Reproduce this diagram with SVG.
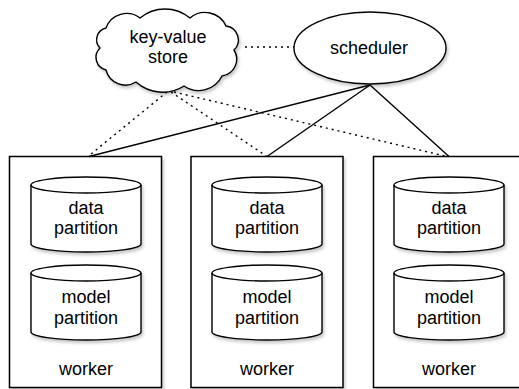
<svg xmlns="http://www.w3.org/2000/svg" width="519" height="389" viewBox="0 0 519 389">
<defs>
<filter id="sh" x="-10%" y="-10%" width="130%" height="130%">
<feDropShadow dx="1.5" dy="2.5" stdDeviation="1.8" flood-color="#000" flood-opacity="0.22"/>
</filter>
<symbol id="cyl" overflow="visible">
<path d="M0,8 a55,8 0 0,1 110,0 v59 a55,8 0 0,1 -110,0 z" fill="#fff" stroke="#000" stroke-width="1.4" filter="url(#sh)"/>
<path d="M0,8 a55,8 0 0,0 110,0" fill="none" stroke="#000" stroke-width="1.4"/>
</symbol>
</defs>
<style>
text{font-family:"Liberation Sans",Arial,Helvetica,sans-serif;font-size:18px;fill:#000;text-anchor:middle}
.box{fill:#fff;stroke:#000;stroke-width:1.5}
.solid{stroke:#000;stroke-width:1.4;fill:none}
.dot{stroke:#000;stroke-width:1.4;fill:none;stroke-dasharray:2 4}
</style>
<rect width="519" height="389" fill="#fff"/>
<g id="worker1">
<rect class="box" x="9.5" y="156.5" width="152" height="231" filter="url(#sh)"/>
<use href="#cyl" x="31" y="177"/>
<text x="86" y="214">data</text>
<text x="86" y="234">partition</text>
<use href="#cyl" x="31" y="265"/>
<text x="86" y="303">model</text>
<text x="86" y="324">partition</text>
<text x="86" y="375">worker</text>
</g>
<g id="worker2">
<rect class="box" x="191" y="156.5" width="152" height="231" filter="url(#sh)"/>
<use href="#cyl" x="212" y="177"/>
<text x="267" y="214">data</text>
<text x="267" y="234">partition</text>
<use href="#cyl" x="212" y="265"/>
<text x="267" y="303">model</text>
<text x="267" y="324">partition</text>
<text x="267" y="375">worker</text>
</g>
<g id="worker3">
<rect class="box" x="373.5" y="156.5" width="152" height="231" filter="url(#sh)"/>
<use href="#cyl" x="394" y="177"/>
<text x="449" y="214">data</text>
<text x="449" y="234">partition</text>
<use href="#cyl" x="394" y="265"/>
<text x="449" y="303">model</text>
<text x="449" y="324">partition</text>
<text x="449" y="375">worker</text>
</g>
<g id="connectors">
<line class="dot" x1="245" y1="47" x2="294" y2="47"/>
<line class="solid" x1="370" y1="85" x2="89" y2="156.5"/>
<line class="solid" x1="370" y1="85" x2="267" y2="156.5"/>
<line class="solid" x1="370" y1="85" x2="449" y2="156.5"/>
<line class="dot" x1="167" y1="92" x2="88" y2="156.5"/>
<line class="dot" x1="171" y1="92" x2="267" y2="156.5"/>
<line class="dot" x1="174" y1="92" x2="447" y2="156.5"/>
</g>
<g id="kvstore">
<path d="M106,28 A22,22 0 0,1 140,18 A39,39 0 0,1 190,18 A23,23 0 0,1 226,26 A14,14 0 0,1 234,50 A17,17 0 0,1 222,76 A26,26 0 0,1 184,86 A40,40 0 0,1 136,82 A20,20 0 0,1 106,70 A13,13 0 0,1 100,48 A12,12 0 0,1 106,28 Z" fill="#fff" stroke="#000" stroke-width="1.4" filter="url(#sh)"/>
<text x="168" y="43">key-value</text>
<text x="168" y="63">store</text>
</g>
<g id="scheduler">
<ellipse cx="370" cy="48" rx="76" ry="36" fill="#fff" stroke="#000" stroke-width="1.4" filter="url(#sh)"/>
<text x="369" y="54">scheduler</text>
</g>
</svg>
